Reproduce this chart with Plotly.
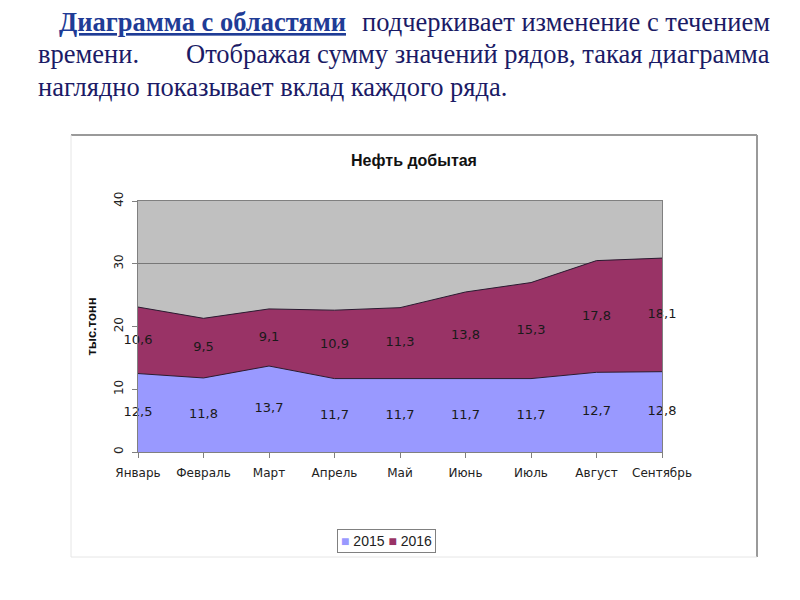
import plotly.graph_objects as go

months = ["Январь", "Февраль", "Март", "Апрель", "Май", "Июнь", "Июль", "Август", "Сентябрь"]
s2015 = [12.5, 11.8, 13.7, 11.7, 11.7, 11.7, 11.7, 12.7, 12.8]
s2016 = [10.6, 9.5, 9.1, 10.9, 11.3, 13.8, 15.3, 17.8, 18.1]
series_names = ["2015", "2016"]
y_ticks = [0, 10, 20, 30, 40]

chart_title = "Нефть добытая"
y_title = "тыс.тонн"
intro_bold = "Диаграмма с областями"
intro_l1 = "подчеркивает изменение с течением"
intro_l2a = "времени."
intro_l2b = "Отображая сумму значений рядов, такая диаграмма"
intro_l3 = "наглядно показывает вклад каждого ряда."

# page offset (body margin) and plot-area geometry in reference pixels
OFF = 8
W, H = 800 - 2 * OFF, 600 - 2 * OFF
L, R, T, B = 138, 662, 201, 452
PW, PH = R - L, B - T


def px(x):
    return (x - L) / PW


def py(y):
    return (B - y) / PH


def fmt(v):
    return f"{v:.1f}".replace(".", ",")


c2015 = "#9999FF"
c2016 = "#993366"
edge = "#2a1a30"
colors = [c2015, c2016]

fig = go.Figure()
fig.add_trace(go.Scatter(
    x=months, y=s2015, name=series_names[0], mode="lines",
    stackgroup="one", fillcolor=c2015, line=dict(color=edge, width=1),
    hoverinfo="skip", showlegend=False))
fig.add_trace(go.Scatter(
    x=months, y=s2016, name=series_names[1], mode="lines",
    stackgroup="one", fillcolor=c2016, line=dict(color=edge, width=1),
    hoverinfo="skip", showlegend=False))

lab_font = dict(family="DejaVu Sans", size=13, color="#1a1a1a")
fig.add_trace(go.Scatter(
    x=months, y=[v / 2 for v in s2015], mode="text",
    text=[fmt(v) for v in s2015], textfont=lab_font, cliponaxis=False,
    textposition="middle center", showlegend=False, hoverinfo="skip"))
fig.add_trace(go.Scatter(
    x=months, y=[a + b / 2 for a, b in zip(s2015, s2016)], mode="text",
    text=[fmt(v) for v in s2016], textfont=lab_font, cliponaxis=False,
    textposition="middle center", showlegend=False, hoverinfo="skip"))

tick_font = dict(family="DejaVu Sans", size=12, color="#222222")

fig.update_layout(
    width=W, height=H,
    margin=dict(l=L - OFF, r=W - (R - OFF), t=T - OFF, b=H - (B - OFF), pad=0),
    paper_bgcolor="white",
    plot_bgcolor="#C0C0C0",
    showlegend=False,
    title=dict(text="<b>" + chart_title + "</b>", xref="container", yref="container",
               x=(414 - OFF) / W, y=1 - (160 - OFF) / H, xanchor="center", yanchor="middle",
               font=dict(family="Liberation Sans", size=16, color="#111111")),
    xaxis=dict(type="category", range=[0, len(months) - 1], showgrid=False,
               showline=True, linecolor="#808080", linewidth=1, mirror=True,
               ticks="outside", ticklen=5, tickcolor="#808080", ticklabelstandoff=5,
               tickfont=tick_font, zeroline=False, fixedrange=True),
    yaxis=dict(range=[0, 40], tickvals=y_ticks, tickangle=-90,
               showgrid=True, gridcolor="#777777", gridwidth=1,
               showline=True, linecolor="#808080", linewidth=1, mirror=True,
               ticks="outside", ticklen=5, tickcolor="#808080", ticklabelstandoff=4,
               tickfont=tick_font, zeroline=False,
               title=dict(text="<b>" + y_title + "</b>", standoff=12,
                          font=dict(family="Liberation Sans", size=13, color="#111111"))),
)

# outer chart frame
frame = [
    (71, 135, 757, 135, "#9a9a9a", 2),
    (757, 135, 757, 557, "#9a9a9a", 2),
    (71, 135, 71, 557, "#e6e6e6", 1),
    (71, 557, 757, 557, "#e6e6e6", 1),
]
for x0, y0, x1, y1, col, wd in frame:
    fig.add_shape(type="line", xref="paper", yref="paper",
                  x0=px(x0), y0=py(y0), x1=px(x1), y1=py(y1),
                  line=dict(color=col, width=wd), layer="below")

# compact legend box
legend_text = "&nbsp;".join(
    f"<span style='color:{c}'>■</span> {n}" for n, c in zip(series_names, colors))
fig.add_annotation(xref="paper", yref="paper", x=px(386), y=py(541),
                   xanchor="center", yanchor="middle", showarrow=False,
                   text=legend_text, bgcolor="white", bordercolor="#808080",
                   borderwidth=1, borderpad=3,
                   font=dict(family="Liberation Sans", size=14, color="#222222"))

FS = 26.5
body = dict(family="Liberation Serif", size=FS, color="#1b1b66")
top_lines = [
    (58, 22, "left", "<b><u>" + intro_bold + "</u></b>", "#1f3c96"),
    (771, 22, "right", intro_l1, body["color"]),
    (37, 54, "left", intro_l2a, body["color"]),
    (771, 54, "right", intro_l2b, body["color"]),
    (37, 87, "left", intro_l3, body["color"]),
]
for x, y, anc, txt, col in top_lines:
    fig.add_annotation(xref="paper", yref="paper", x=px(x), y=py(y),
                       xanchor=anc, yanchor="middle", showarrow=False,
                       text=txt, borderpad=0,
                       font=dict(family="Liberation Serif", size=FS, color=col))

fig.write_html("out.html")
